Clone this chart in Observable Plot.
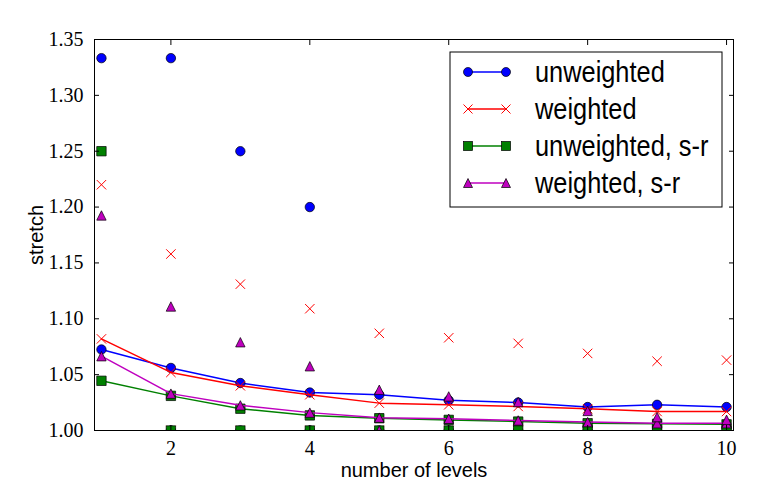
<!DOCTYPE html>
<html><head><meta charset="utf-8">
<script src="https://cdn.jsdelivr.net/npm/d3@7"></script>
<script src="https://cdn.jsdelivr.net/npm/@observablehq/plot@0.6"></script>
<style>
body{margin:0;background:#fff;}
#chart{position:relative;width:781px;height:488px;}
</style></head><body><div id="chart"></div>
<script>
const levels = [1, 2, 3, 4, 5, 6, 7, 8, 9, 10];
const seriesNames = ["unweighted", "weighted", "unweighted, s-r", "weighted, s-r"];
const seriesColors = ["#0000ff", "#ff0000", "#008000", "#bf00bf"];
const seriesSymbols = ["circle", "x", "square", "triangle"];

// mean (line) values
const unweightedMean   = [1.0725, 1.056, 1.0425, 1.034, 1.032, 1.027, 1.025, 1.021, 1.023, 1.021];
const weightedMean     = [1.082, 1.052, 1.040, 1.032, 1.0245, 1.023, 1.0215, 1.0195, 1.017, 1.017];
const unweightedSrMean = [1.0445, 1.031, 1.0195, 1.0135, 1.011, 1.0095, 1.008, 1.0065, 1.006, 1.0055];
const weightedSrMean   = [1.0665, 1.033, 1.0225, 1.016, 1.0115, 1.0105, 1.009, 1.0075, 1.0065, 1.0065];

// maximum values (markers only)
const unweightedMax   = [1.3333, 1.3333, 1.25, 1.20, null, null, null, null, null, null];
const weightedMax     = [1.220, 1.158, 1.131, 1.109, 1.087, 1.083, 1.078, 1.069, 1.062, 1.063];
const unweightedSrMax = [1.25, null, null, null, null, null, null, null, null, null];
const weightedSrMax   = [1.1925, 1.111, 1.079, 1.0575, 1.0365, 1.0305, 1.0255, 1.0175, 1.012, 1.0096];

// minimum values (markers only)
const unweightedMin   = [null, 1.0, 1.0, 1.0, 1.0, 1.0, 1.0, 1.0, 1.0, 1.0];
const weightedMin     = [null, 1.0, 1.0, 1.0, 1.0, 1.0, 1.0, 1.0, 1.0, 1.0];
const unweightedSrMin = [null, 1.0, 1.0, 1.0, 1.0, 1.0, 1.0, 1.0, 1.0, 1.0];
const weightedSrMin   = [null, null, null, null, 1.0, null, null, null, null, null];

const xTicks = [2, 4, 6, 8, 10];
const yTicks = [1.00, 1.05, 1.10, 1.15, 1.20, 1.25, 1.30, 1.35];

const means = [unweightedMean, weightedMean, unweightedSrMean, weightedSrMean];
const maxes = [unweightedMax, weightedMax, unweightedSrMax, weightedSrMax];
const mins = [unweightedMin, weightedMin, unweightedSrMin, weightedSrMin];

const symTriangle = {draw(ctx, size) {const s = Math.sqrt(size / Math.PI); ctx.moveTo(0, -s); ctx.lineTo(s, s); ctx.lineTo(-s, s); ctx.closePath();}};
const symX = {draw(ctx, size) {const s = Math.sqrt(size / Math.PI); ctx.moveTo(-s, -s); ctx.lineTo(s, s); ctx.moveTo(s, -s); ctx.lineTo(-s, s);}};
const symSquare = {draw(ctx, size) {const s = Math.sqrt(size / Math.PI); ctx.rect(-s, -s, 2 * s, 2 * s);}};
const symbolOf = {circle: "circle", x: symX, square: symSquare, triangle: symTriangle};

const rows = (arr) => levels.map((x, i) => ({x, y: arr[i]})).filter((d) => d.y != null);

function dotStyle(i) {
  const isX = seriesSymbols[i] === "x";
  return {
    x: "x", y: "y", r: 4.7, symbol: symbolOf[seriesSymbols[i]],
    fill: isX ? "none" : seriesColors[i],
    stroke: isX ? seriesColors[i] : "black",
    strokeWidth: isX ? 1 : 0.7,
    clip: true
  };
}

const seriesMarks = seriesNames.flatMap((name, i) => [
  Plot.line(rows(means[i]), {x: "x", y: "y", stroke: seriesColors[i], strokeWidth: 1.5}),
  Plot.dot(rows(means[i]), dotStyle(i)),
  Plot.dot(rows(maxes[i]), dotStyle(i)),
  Plot.dot(rows(mins[i]), dotStyle(i))
]);

const chart = Plot.plot({
  width: 781, height: 488,
  marginLeft: 94, marginRight: 48, marginTop: 39, marginBottom: 58,
  x: {domain: [0.9, 10.1]},
  y: {domain: [1.0, 1.35]},
  style: {fontFamily: "'Liberation Serif', serif", fontSize: "20px", color: "black", background: "white"},
  marks: [
    ...seriesMarks,
    Plot.frame({stroke: "black", strokeWidth: 1}),
    Plot.axisX(xTicks, {anchor: "bottom", tickSize: 0, tickPadding: 10, label: "number of levels", labelAnchor: "center", labelArrow: "none", labelOffset: 46}),
    Plot.axisX(xTicks, {anchor: "bottom", tickSize: 5, dy: -5, tickFormat: () => "", label: null}),
    Plot.axisX(xTicks, {anchor: "top", tickSize: 5, dy: 5, tickFormat: () => "", label: null}),
    Plot.axisY(yTicks, {anchor: "left", tickSize: 0, tickPadding: 11, tickFormat: d3.format(".2f"), label: "stretch", labelAnchor: "center", labelArrow: "none", labelOffset: 66}),
    Plot.axisY(yTicks, {anchor: "left", tickSize: 5, dx: 5, tickFormat: () => "", label: null}),
    Plot.axisY(yTicks, {anchor: "right", tickSize: 5, dx: -5, tickFormat: () => "", label: null})
  ]
});

document.getElementById("chart").appendChild(chart);
const svg = d3.select(chart);
svg.selectAll('g[aria-label="x-axis label"] text, g[aria-label="y-axis label"] text')
  .attr("font-family", "'Liberation Sans', Arial, sans-serif").attr("font-size", 20);

// legend (inside the plot, top right)
const lg = svg.append("g").attr("class", "legend").attr("text-anchor", "start");
const boxX = 450, boxY = 52, boxW = 272, boxH = 155, rowY0 = 72, rowStep = 37;
lg.append("rect").attr("x", boxX).attr("y", boxY).attr("width", boxW).attr("height", boxH)
  .attr("fill", "white").attr("stroke", "black").attr("stroke-width", 1);
seriesNames.forEach((name, i) => {
  const y = rowY0 + i * rowStep;
  lg.append("line").attr("x1", 468).attr("x2", 506).attr("y1", y).attr("y2", y)
    .attr("stroke", seriesColors[i]).attr("stroke-width", 1.5);
  [468, 506].forEach((x) => {
    const s = 4.5;
    const sym = seriesSymbols[i];
    let el;
    if (sym === "circle") el = lg.append("circle").attr("cx", x).attr("cy", y).attr("r", s);
    else if (sym === "square") el = lg.append("rect").attr("x", x - s).attr("y", y - s).attr("width", 2 * s).attr("height", 2 * s);
    else if (sym === "triangle") el = lg.append("path").attr("d", `M${x},${y - s}L${x + s},${y + s}L${x - s},${y + s}Z`);
    else el = lg.append("path").attr("d", `M${x - s},${y - s}L${x + s},${y + s}M${x + s},${y - s}L${x - s},${y + s}`);
    if (sym === "x") el.attr("fill", "none").attr("stroke", seriesColors[i]).attr("stroke-width", 1);
    else el.attr("fill", seriesColors[i]).attr("stroke", "black").attr("stroke-width", 0.7);
  });
  lg.append("text").attr("transform", `translate(535,${y}) scale(0.875,1)`).attr("dy", "0.35em").attr("text-anchor", "start")
    .attr("font-family", "'Liberation Sans', Arial, sans-serif")
    .attr("font-size", 29).attr("fill", "black").text(name);
});
</script></body></html>
